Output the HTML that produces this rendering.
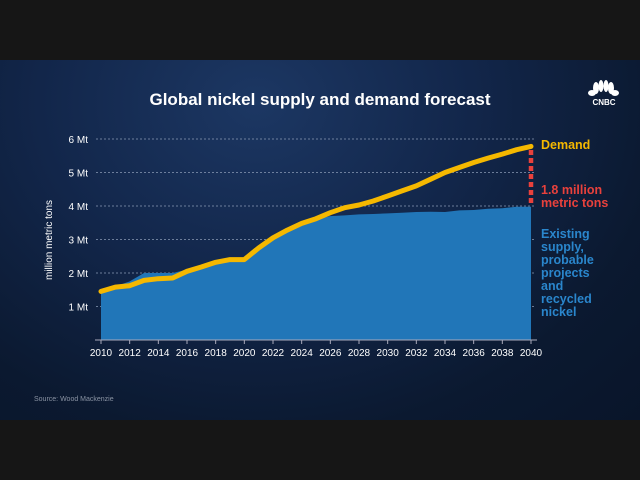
<!DOCTYPE html>
<html><head><meta charset="utf-8"><style>
html,body{margin:0;padding:0;width:640px;height:480px;overflow:hidden;background:#161616;font-family:"Liberation Sans",sans-serif}
#bg{position:absolute;left:0;top:60px;width:640px;height:360px;background:radial-gradient(ellipse at 40% 12%,#1c3763 0%,#12264a 40%,#0b1930 75%,#09152a 100%)}
</style></head><body>
<div id="bg"></div>
<svg id="s" width="640" height="480" style="position:absolute;left:0;top:0" xmlns="http://www.w3.org/2000/svg">
<text x="320" y="105" text-anchor="middle" fill="#fff" font-size="17" font-weight="bold">Global nickel supply and demand forecast</text>
<text x="604" y="105" text-anchor="middle" fill="#fff" font-size="8" font-weight="bold">CNBC</text>
<g fill="#fff"><ellipse cx="596" cy="88" rx="3" ry="6"/><ellipse cx="601" cy="86" rx="2.5" ry="6"/><ellipse cx="606" cy="86" rx="2.5" ry="6"/><ellipse cx="611" cy="88" rx="3" ry="6"/><ellipse cx="592" cy="93" rx="4" ry="3"/><ellipse cx="615" cy="93" rx="4" ry="3"/></g>
<g id="grid"></g>
<path id="area" fill="#2176b8"/>
<path id="dem" fill="none" stroke="#f5b800" stroke-width="5" stroke-linejoin="round" stroke-linecap="round"/>
<line x1="531" y1="150" x2="531" y2="206" stroke="#e8413c" stroke-width="4.5" stroke-dasharray="5,3"/>
<line x1="95" y1="340" x2="537" y2="340" stroke="#aab" stroke-width="1"/>
<g id="xt" fill="#fff" font-size="10" text-anchor="middle"></g>
<text transform="translate(52,240) rotate(-90)" text-anchor="middle" fill="#fff" font-size="10">million metric tons</text>
<text x="541" y="149" fill="#f5b800" font-size="12.5" font-weight="bold">Demand</text>
<text x="541" y="194" fill="#e8413c" font-size="12.5" font-weight="bold">1.8 million</text>
<text x="541" y="207" fill="#e8413c" font-size="12.5" font-weight="bold">metric tons</text>
<g fill="#2a86cc" font-size="12.5" font-weight="bold">
<text x="541" y="238">Existing</text><text x="541" y="251">supply,</text><text x="541" y="264">probable</text><text x="541" y="277">projects</text><text x="541" y="290">and</text><text x="541" y="303">recycled</text><text x="541" y="316">nickel</text></g>
<text x="34" y="401" fill="#8a93a3" font-size="7">Source: Wood Mackenzie</text>
</svg>
<script>
var S=[1.45,1.6,1.75,2.0,2.0,2.0,2.1,2.2,2.35,2.45,2.45,2.8,3.05,3.25,3.45,3.6,3.7,3.72,3.75,3.76,3.78,3.8,3.82,3.83,3.82,3.87,3.88,3.92,3.93,3.98,3.98];
var D=[1.45,1.58,1.62,1.78,1.83,1.85,2.05,2.18,2.32,2.4,2.4,2.75,3.05,3.28,3.48,3.62,3.8,3.95,4.03,4.15,4.3,4.45,4.6,4.8,5.0,5.15,5.3,5.43,5.55,5.68,5.78];
function X(i){return 101+i*14.333}function Y(v){return 340-v*33.5}
var a="M101,340";S.forEach(function(v,i){a+=" L"+X(i).toFixed(1)+","+Y(v).toFixed(1)});a+=" L531,340Z";
document.getElementById("area").setAttribute("d",a);
var d="";D.forEach(function(v,i){d+=(i?" L":"M")+X(i).toFixed(1)+","+Y(v).toFixed(1)});
document.getElementById("dem").setAttribute("d",d);
var g="";for(var k=1;k<=6;k++){var y=Y(k);g+='<line x1="96" y1="'+y+'" x2="534" y2="'+y+'" stroke="#8a9ab5" stroke-width="0.7" stroke-dasharray="2,2"/><text x="88" y="'+(y+4)+'" text-anchor="end" fill="#fff" font-size="10">'+k+' Mt</text>';}
document.getElementById("grid").innerHTML=g;
var t="";for(var yr=2010;yr<=2040;yr+=2){var x=X(yr-2010);t+='<line x1="'+x+'" y1="340" x2="'+x+'" y2="344" stroke="#aab"/><text x="'+x+'" y="356">'+yr+'</text>';}
document.getElementById("xt").innerHTML=t;
</script>
</body></html>
